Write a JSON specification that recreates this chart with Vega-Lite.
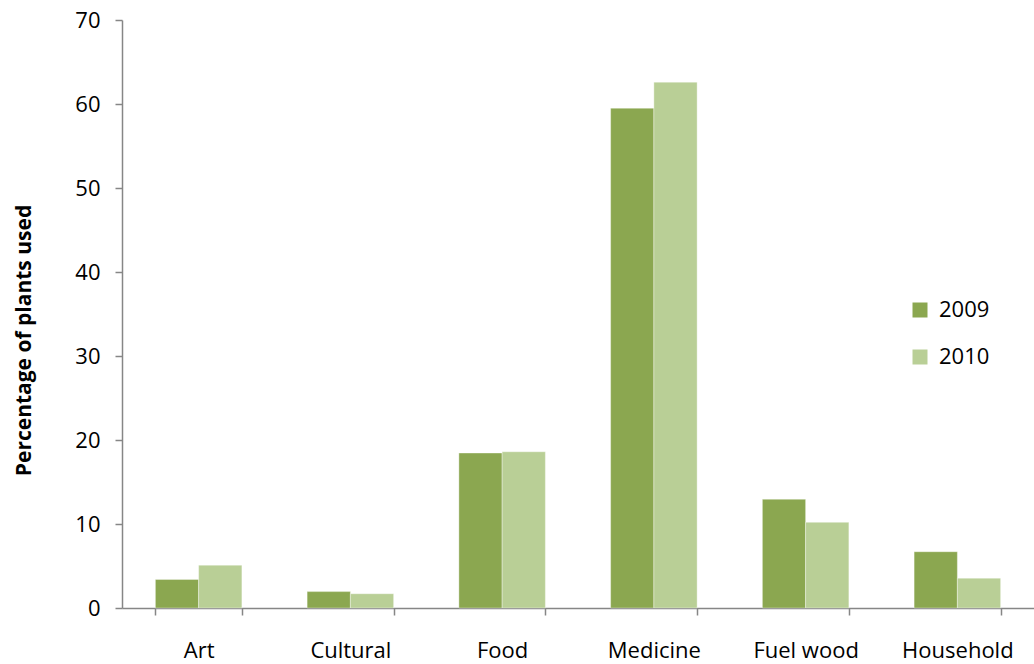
{
  "$schema": "https://vega.github.io/schema/vega-lite/v6.json",
  "width": 912,
  "height": 588,
  "autosize": {"type": "none"},
  "padding": {"left": 122, "top": 20, "right": 0, "bottom": 56},
  "background": "white",
  "config": {
    "view": {"stroke": null},
    "font": "Open Sans",
    "axis": {"labelFont": "Open Sans", "titleFont": "Open Sans", "labelColor": "#000000", "titleColor": "#000000"}
  },
  "data": {
    "values": [
      {"use": "Art", "year": "2009", "pct": 3.4},
      {"use": "Art", "year": "2010", "pct": 5.1},
      {"use": "Cultural", "year": "2009", "pct": 1.95},
      {"use": "Cultural", "year": "2010", "pct": 1.7},
      {"use": "Food", "year": "2009", "pct": 18.45},
      {"use": "Food", "year": "2010", "pct": 18.6},
      {"use": "Medicine", "year": "2009", "pct": 59.5},
      {"use": "Medicine", "year": "2010", "pct": 62.6},
      {"use": "Fuel wood", "year": "2009", "pct": 12.95},
      {"use": "Fuel wood", "year": "2010", "pct": 10.2},
      {"use": "Household", "year": "2009", "pct": 6.7},
      {"use": "Household", "year": "2010", "pct": 3.55}
    ]
  },
  "mark": {"type": "bar", "stroke": "#ffffff", "strokeWidth": 0.6, "strokeOpacity": 0.6},
  "encoding": {
    "x": {
      "field": "use",
      "type": "nominal",
      "sort": ["Art", "Cultural", "Food", "Medicine", "Fuel wood", "Household"],
      "scale": {"paddingInner": 0.43, "paddingOuter": 0.22},
      "axis": {
        "title": null,
        "labelAngle": 0,
        "labelFontSize": 22,
        "labelPadding": 25,
        "tickBand": "extent",
        "tickSize": 7,
        "tickColor": "#868686",
        "domainColor": "#868686",
        "domainWidth": 1.5,
        "tickWidth": 1.5
      }
    },
    "xOffset": {"field": "year", "type": "nominal", "sort": ["2009", "2010"]},
    "y": {
      "field": "pct",
      "type": "quantitative",
      "scale": {"domain": [0, 70]},
      "axis": {
        "title": "Percentage of plants used",
        "titleFontSize": 21,
        "titleFontWeight": "bold",
        "titlePadding": 40,
        "titleY": 320,
        "values": [0, 10, 20, 30, 40, 50, 60, 70],
        "labelFontSize": 22,
        "labelPadding": 15,
        "grid": false,
        "tickSize": 7,
        "tickColor": "#868686",
        "domainColor": "#868686",
        "domainWidth": 1.5,
        "tickWidth": 1.5
      }
    },
    "color": {
      "field": "year",
      "type": "nominal",
      "scale": {"domain": ["2009", "2010"], "range": ["#8BA750", "#B9CF96"]},
      "legend": {
        "title": null,
        "orient": "none",
        "legendX": 787,
        "legendY": 279,
        "symbolType": "square",
        "symbolSize": 225,
        "symbolStrokeWidth": 0,
        "labelFontSize": 22,
        "labelFont": "Open Sans",
        "labelColor": "#000000",
        "rowPadding": 25,
        "labelOffset": 8
      }
    }
  }
}
